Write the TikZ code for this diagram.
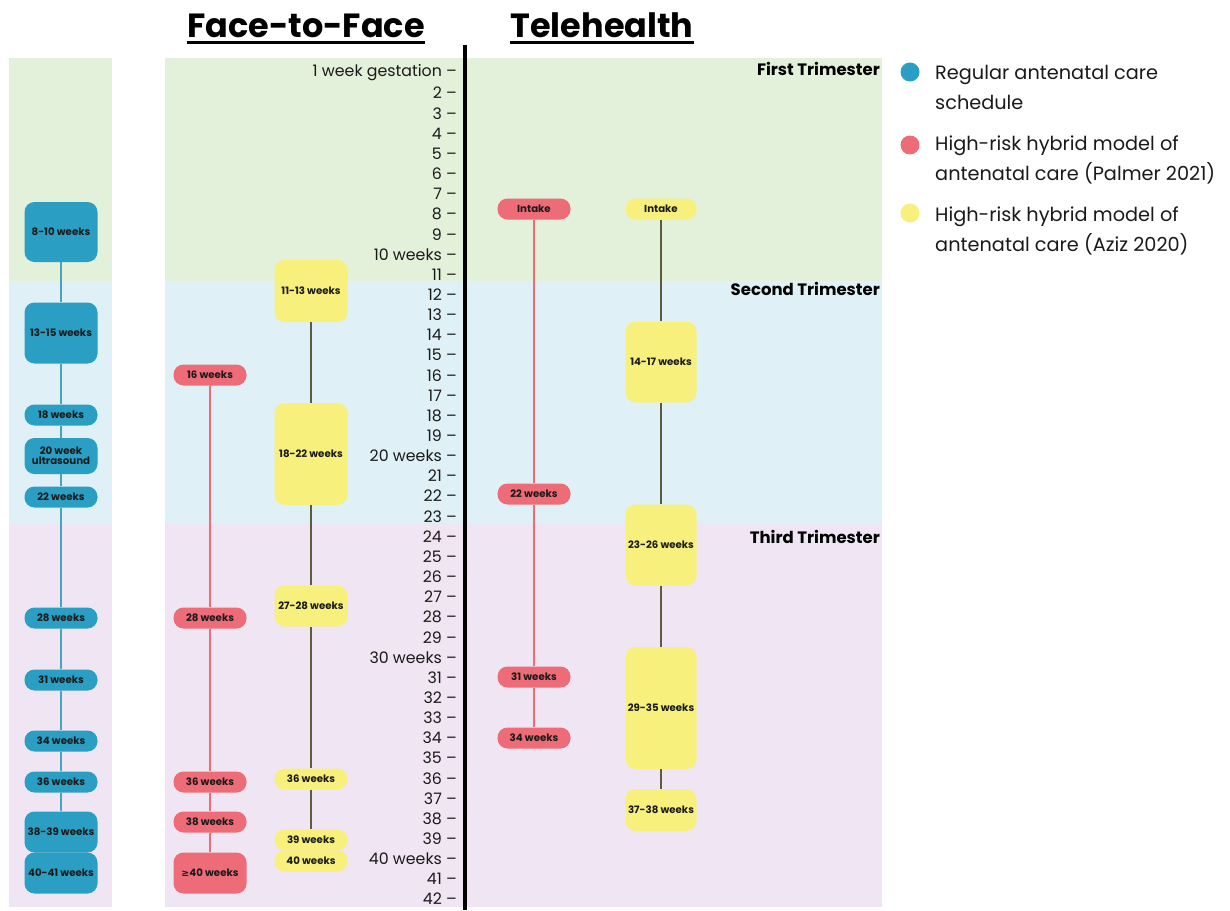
\documentclass[tikz,border=0pt]{standalone}
\usepackage{fontspec}
\setmainfont{Poppins}
\newfontfamily\symfont{DejaVu Sans}
\definecolor{bgG}{HTML}{E3F0DA}
\definecolor{bgB}{HTML}{DFF1F6}
\definecolor{bgP}{HTML}{F0E6F3}
\definecolor{cB}{HTML}{2A9EC3}
\definecolor{cR}{HTML}{EE6B78}
\definecolor{cY}{HTML}{F7F07C}
\definecolor{lB}{HTML}{4AA3BC}
\definecolor{lR}{HTML}{EA6E79}
\definecolor{lY}{HTML}{5E5C3E}
\definecolor{ink}{HTML}{1A1A1A}
\begin{document}
\begin{tikzpicture}[x=1pt,y=-1pt,
  box/.style={minimum width=73pt, minimum height=21pt, rounded corners=10pt, inner sep=0pt,
    text=ink, font=\fontsize{10.2}{11}\selectfont\bfseries, align=center},
  bbox/.style={box, fill=cB},
  rbox/.style={box, fill=cR},
  ybox/.style={box, fill=cY},
  tbox/.style={minimum width=71pt},
  bl/.style={lB, line width=1.2pt},
  rl/.style={lR, line width=1.2pt},
  yl/.style={lY, line width=1.2pt},
  wk/.style={anchor=east, inner sep=0pt, font=\fontsize{15.8}{17}\selectfont, text=ink},
  ttl/.style={anchor=base, inner sep=0pt, font=\fontsize{33.5}{36}\selectfont\bfseries, text=black},
  tri/.style={anchor=east, inner sep=0pt, font=\fontsize{16.5}{18}\selectfont\bfseries, text=black},
  leg/.style={anchor=base west, inner sep=0pt, align=left, font=\fontsize{19.3}{30}\selectfont, text=ink},
  dot/.style={circle, minimum size=19pt, inner sep=0pt}
]
\useasboundingbox (0,0) rectangle (1230,910);
\fill[white] (0,0) rectangle (1230,910);
% backgrounds
\fill[bgG] (9,58) rectangle (112,281);
\fill[bgB] (9,281) rectangle (112,523);
\fill[bgP] (9,523) rectangle (112,907);
\fill[bgG] (165,58) rectangle (882,281);
\fill[bgB] (165,281) rectangle (882,523);
\fill[bgP] (165,523) rectangle (882,907);
% titles
\node[ttl] (t1) at (306,37) {Face-to-Face};
\node[ttl] (t2) at (602,37) {Telehealth};
\draw[line width=2.6pt] ([yshift=-5.5pt]t1.base west) -- ([yshift=-5.5pt]t1.base east);
\draw[line width=2.6pt] ([yshift=-5.5pt]t2.base west) -- ([yshift=-5.5pt]t2.base east);
% divider
\draw[line width=3.5pt] (465,45) -- (465,910);
% trimester labels
\node[tri] (tr1) at (880,69) {First Trimester};
\node[tri] (tr2) at (880,289) {Second Trimester};
\node[tri] (tr3) at (880,537) {Third Trimester};
% week labels
\foreach \w/\t in {1/1 week gestation,2/2,3/3,4/4,5/5,6/6,7/7,8/8,9/9,10/10 weeks,
  11/11,12/12,13/13,14/14,15/15,16/16,17/17,18/18,19/19,20/20 weeks,
  21/21,22/22,23/23,24/24,25/25,26/26,27/27,28/28,29/29,30/30 weeks,
  31/31,32/32,33/33,34/34,35/35,36/36,37/37,38/38,39/39,40/40 weeks,41/41,42/42}{
  \pgfmathsetmacro\yy{73+(\w-1)*20.15}
  \node[wk] (wk\w) at (457,\yy) {\t\ –};
}
% regular schedule (blue)
\node[bbox, minimum height=60pt] (b1) at (61,232) {8-10 weeks};
\node[bbox, minimum height=61pt] (b2) at (61,333) {13-15 weeks};
\node[bbox] (b3) at (61,415) {18 weeks};
\node[bbox, minimum height=36pt] (b4) at (61,456) {20 week\\[-1pt]ultrasound};
\node[bbox] (b5) at (61,497) {22 weeks};
\node[bbox] (b6) at (61,618) {28 weeks};
\node[bbox] (b7) at (61,680) {31 weeks};
\node[bbox] (b8) at (61,741) {34 weeks};
\node[bbox] (b9) at (61,782) {36 weeks};
\node[bbox, minimum height=41pt] (b10) at (61,832) {38-39 weeks};
\node[bbox, minimum height=41pt] (b11) at (61,873) {40-41 weeks};
\foreach \a/\b in {b1/b2,b2/b3,b3/b4,b4/b5,b5/b6,b6/b7,b7/b8,b8/b9,b9/b10}
  \draw[bl] (\a.south) -- (\b.north);
% Palmer face-to-face (red)
\node[rbox] (r1) at (210,375) {16 weeks};
\node[rbox] (r2) at (210,618) {28 weeks};
\node[rbox] (r3) at (210,782) {36 weeks};
\node[rbox] (r4) at (210,822) {38 weeks};
\node[rbox, minimum height=41pt] (r5) at (210,873) {{\symfont\fontsize{9.5}{10}\selectfont ≥}40 weeks};
\foreach \a/\b in {r1/r2,r2/r3,r3/r4,r4/r5}
  \draw[rl] (\a.south) -- (\b.north);
% Aziz face-to-face (yellow)
\node[ybox, minimum height=62pt] (y1) at (311,291) {11-13 weeks};
\node[ybox, minimum height=102pt] (y2) at (311,454) {18-22 weeks};
\node[ybox, minimum height=41pt] (y3) at (311,606) {27-28 weeks};
\node[ybox] (y4) at (311,779) {36 weeks};
\node[ybox] (y5) at (311,840) {39 weeks};
\node[ybox] (y6) at (311,861) {40 weeks};
\foreach \a/\b in {y1/y2,y2/y3,y3/y4,y4/y5}
  \draw[yl] (\a.south) -- (\b.north);
% Palmer telehealth (red)
\node[rbox] (tr1n) at (534,209) {Intake};
\node[rbox] (tr2n) at (534,494) {22 weeks};
\node[rbox] (tr3n) at (534,677) {31 weeks};
\node[rbox] (tr4n) at (534,738) {34 weeks};
\foreach \a/\b in {tr1n/tr2n,tr2n/tr3n,tr3n/tr4n}
  \draw[rl] (\a.south) -- (\b.north);
% Aziz telehealth (yellow)
\node[ybox, tbox] (ty1) at (661,209) {Intake};
\node[ybox, tbox, minimum height=81pt] (ty2) at (661,362) {14-17 weeks};
\node[ybox, tbox, minimum height=81pt] (ty3) at (661,545) {23-26 weeks};
\node[ybox, tbox, minimum height=122pt] (ty4) at (661,708) {29-35 weeks};
\node[ybox, tbox, minimum height=42pt] (ty5) at (661,810) {37-38 weeks};
\foreach \a/\b in {ty1/ty2,ty2/ty3,ty3/ty4,ty4/ty5}
  \draw[yl] (\a.south) -- (\b.north);
% legend
\node[dot, fill=cB] (l1) at (910,72) {};
\node[dot, fill=cR] (l2) at (910,145) {};
\node[dot, fill=cY] (l3) at (910,213) {};
\node[leg] (lt1) at (935,109) {Regular antenatal care\\schedule};
\node[leg] (lt2) at (935,180) {High-risk hybrid model of\\antenatal care (Palmer 2021)};
\node[leg] (lt3) at (935,251) {High-risk hybrid model of\\antenatal care (Aziz 2020)};
\end{tikzpicture}
\end{document}
